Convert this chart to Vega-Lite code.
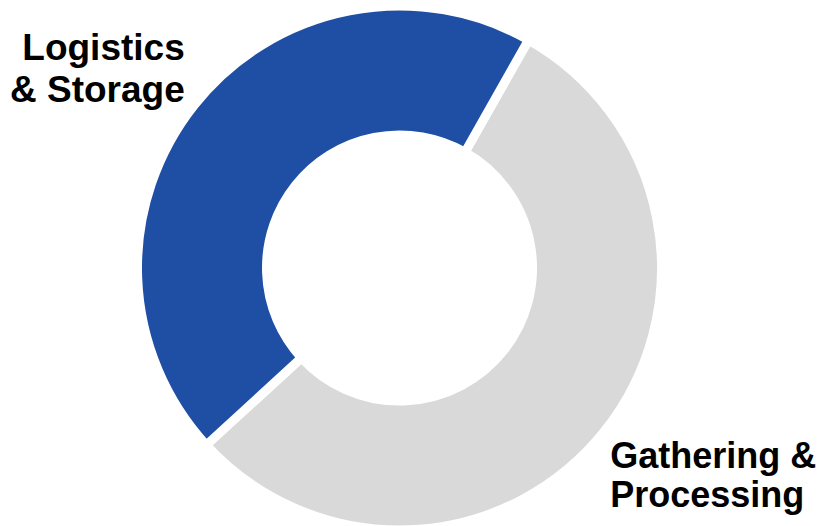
{
  "$schema": "https://vega.github.io/schema/vega-lite/v6.json",
  "width": 824,
  "height": 526,
  "autosize": {"type": "fit", "contains": "padding"},
  "padding": {"left": 2, "top": 10, "right": 22, "bottom": 0},
  "background": "white",
  "config": {"view": {"stroke": null}},
  "data": {
    "values": [
      {"segment": "Gathering & Processing", "share": 55, "idx": 1, "label": "Gathering &\nProcessing"},
      {"segment": "Logistics & Storage", "share": 45, "idx": 2, "label": "Logistics\n& Storage"}
    ]
  },
  "encoding": {
    "theta": {"field": "share", "type": "quantitative", "stack": true, "scale": {"range": [0.515, 6.798]}},
    "order": {"field": "idx", "type": "quantitative"}
  },
  "layer": [
    {
      "mark": {"type": "arc", "outerRadius": 262, "innerRadius": 133, "stroke": "white", "strokeWidth": 9},
      "encoding": {
        "color": {
          "field": "segment",
          "type": "nominal",
          "scale": {"domain": ["Gathering & Processing", "Logistics & Storage"], "range": ["#D9D9D9", "#1F4FA5"]},
          "legend": null
        }
      }
    },
    {
      "mark": {"type": "text", "radius": 300, "align": "right", "baseline": "middle", "lineBreak": "\n", "lineHeight": 42, "font": "Liberation Sans", "fontWeight": "bold", "fontSize": 37, "color": "black", "dx": 20, "dy": -32},
      "encoding": {
        "text": {"condition": {"test": "datum.segment === 'Logistics & Storage'", "field": "label"}, "value": ""}
      }
    },
    {
      "mark": {"type": "text", "radius": 300, "align": "left", "baseline": "middle", "lineBreak": "\n", "lineHeight": 39, "font": "Liberation Sans", "fontWeight": "bold", "fontSize": 36, "color": "black", "dx": -24, "dy": 2},
      "encoding": {
        "text": {"condition": {"test": "datum.segment === 'Gathering & Processing'", "field": "label"}, "value": ""}
      }
    }
  ]
}
